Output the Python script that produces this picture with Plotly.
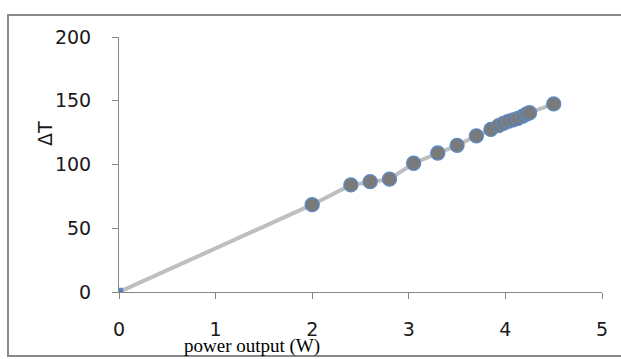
import plotly.graph_objects as go

power_w = [0, 2.0, 2.4, 2.6, 2.8, 3.05, 3.3, 3.5, 3.7, 3.85, 3.93, 3.98, 4.03, 4.08, 4.13, 4.18, 4.22, 4.25, 4.5]
delta_t = [0, 68.5, 84, 86.5, 88.5, 101, 109, 115, 122.5, 127.5, 130.5, 132.3, 133.9, 135, 136.2, 138, 139.6, 140.6, 147.5]
x_ticks = [0, 1, 2, 3, 4, 5]
y_ticks = [0, 50, 100, 150, 200]

n = len(power_w)
sizes = [7] + [14] * (n - 1)
symbols = ["square"] + ["circle"] * (n - 1)
colors = ["#4F81BD"] + ["#7A7A7A"] * (n - 1)

fig = go.Figure()
fig.add_trace(go.Scatter(
    x=power_w, y=delta_t, mode="lines+markers",
    line=dict(color="#BFBFBF", width=4),
    marker=dict(size=sizes, symbol=symbols, color=colors, opacity=1,
                line=dict(color="#5B8AC6", width=1.3)),
    showlegend=False,
))

L, R, T, B = 119, 19, 37, 67
W, H = 621, 359
pw = W - L - R
ph = H - T - B

fig.update_layout(
    width=W, height=H,
    margin=dict(l=L, r=R, t=T, b=B, pad=0),
    paper_bgcolor="white", plot_bgcolor="white",
    xaxis=dict(range=[0, 5], tickvals=x_ticks, showgrid=False, zeroline=False,
               showline=True, linecolor="#868686", linewidth=1,
               ticks="outside", ticklen=6, tickcolor="#868686",
               ticklabelstandoff=14,
               tickfont=dict(family="DejaVu Sans", size=19, color="#1a1a1a")),
    yaxis=dict(range=[0, 200], tickvals=y_ticks, showgrid=False, zeroline=False,
               showline=True, linecolor="#868686", linewidth=1,
               ticks="outside", ticklen=6, tickcolor="#868686",
               ticklabelstandoff=17,
               tickfont=dict(family="DejaVu Sans", size=19, color="#1a1a1a")),
    shapes=[dict(type="rect", xref="paper", yref="paper",
                 x0=(8 - L) / pw, x1=(W + 10 - L) / pw,
                 y0=(H - B - 356) / ph, y1=(H - B - 15) / ph,
                 line=dict(color="#8a8a8a", width=2), layer="below")],
    annotations=[
        dict(text="power output (W)", xref="paper", yref="paper",
             x=(252 - L) / pw, y=(H - B - 346) / ph, showarrow=False,
             xanchor="center", yanchor="middle",
             font=dict(family="Liberation Serif", size=19, color="#000")),
        dict(text="ΔT", xref="paper", yref="paper", textangle=-90,
             x=(45 - L) / pw, y=(H - B - 134) / ph, showarrow=False,
             xanchor="center", yanchor="middle",
             font=dict(family="DejaVu Sans", size=19, color="#1a1a1a")),
    ],
)

fig.write_html("out.html", config={"displayModeBar": False},
               post_script="document.body.style.margin='0';document.body.style.overflow='hidden';")
